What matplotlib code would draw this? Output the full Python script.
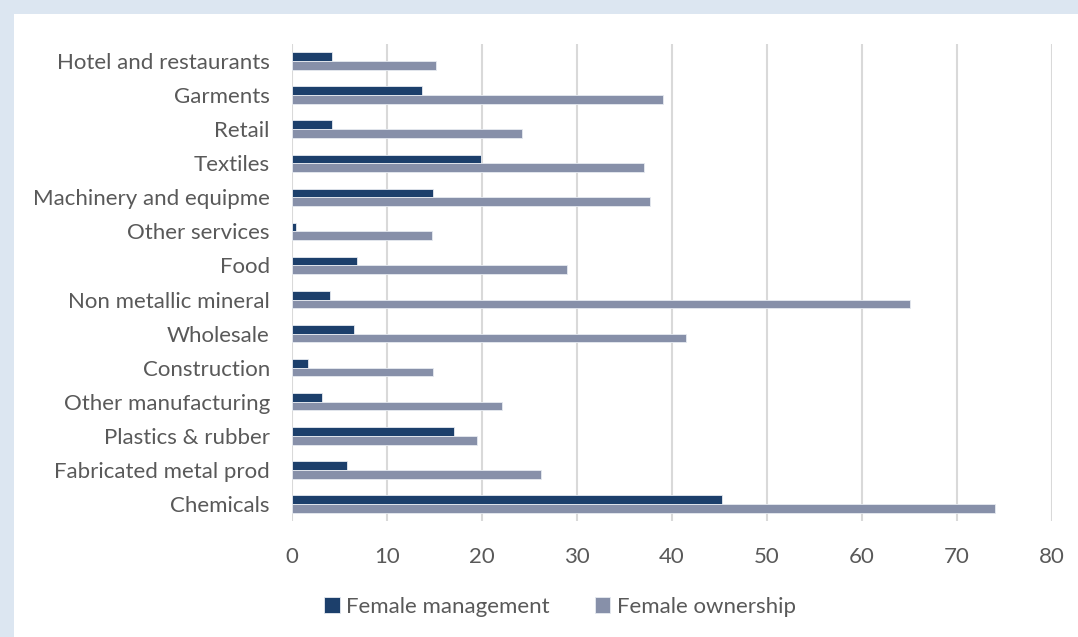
import matplotlib.pyplot as plt
import matplotlib.patches as mpatches
import numpy as np

# Sector labels, bottom to top
sectors = ['Chemicals', 'Fabricated metal prod', 'Plastics & rubber',
           'Other manufacturing', 'Construction', 'Wholesale',
           'Non metallic mineral', 'Food', 'Other services',
           'Machinery and equipme', 'Textiles', 'Retail', 'Garments',
           'Hotel and restaurants']
female_management = [45.3, 5.8, 17.0, 3.2, 1.7, 6.5, 4.0, 6.8, 0.4,
                     14.8, 19.9, 4.2, 13.7, 4.2]
female_ownership = [74.0, 26.2, 19.5, 22.1, 14.8, 41.5, 65.0, 28.9, 14.7,
                    37.7, 37.1, 24.2, 39.0, 15.2]
xticks = [0, 10, 20, 30, 40, 50, 60, 70, 80]

W, H = 1078, 637
fig = plt.figure(figsize=(W / 100, H / 100), dpi=100)
fig.patch.set_facecolor('#DCE6F1')
# white chart panel inside the light blue frame
fig.patches.append(mpatches.Rectangle((14 / W, 0), 1 - 14 / W, 1 - 14 / H,
                                      transform=fig.transFigure,
                                      facecolor='white', edgecolor='none',
                                      zorder=-5))

ax = fig.add_axes([292 / W, 1 - 521 / H, (1052 - 292) / W, (521 - 44) / H])
ax.set_zorder(2)
ax.set_facecolor('white')

y = np.arange(len(sectors))
h = 0.255
col_mgmt = '#1C3F6B'
col_own = '#8790A9'
ax.barh(y + h / 2, female_management, height=h, color=col_mgmt,
        edgecolor='#E6EAF0', linewidth=0.6, label='Female management', zorder=3)
ax.barh(y - h / 2, female_ownership, height=h, color=col_own,
        edgecolor='#E6EAF0', linewidth=0.6, label='Female ownership', zorder=3)

ax.set_xlim(0, 80)
ax.set_ylim(-0.5, len(sectors) - 0.5)
ax.set_xticks(xticks)
ax.set_yticks(y)
ax.set_yticklabels(sectors)
ax.xaxis.grid(True, color='#D9D9D9', linewidth=1.5, zorder=0)
ax.set_axisbelow(True)
for s in ax.spines.values():
    s.set_visible(False)
ax.tick_params(axis='both', length=0, colors='#595959', labelsize=16)
ax.tick_params(axis='x', pad=19)
ax.tick_params(axis='y', pad=16)
for lbl in ax.get_xticklabels() + ax.get_yticklabels():
    lbl.set_fontfamily('Lato')

fig.legend(loc='center', bbox_to_anchor=(560 / W, 1 - 607 / H), ncol=2,
           frameon=False, handlelength=0.7, handleheight=0.7,
           handletextpad=0.3, columnspacing=2.0,
           prop={'family': 'Lato', 'size': 16}, labelcolor='#595959')

fig.savefig('out.png', dpi=100, facecolor=fig.get_facecolor())
